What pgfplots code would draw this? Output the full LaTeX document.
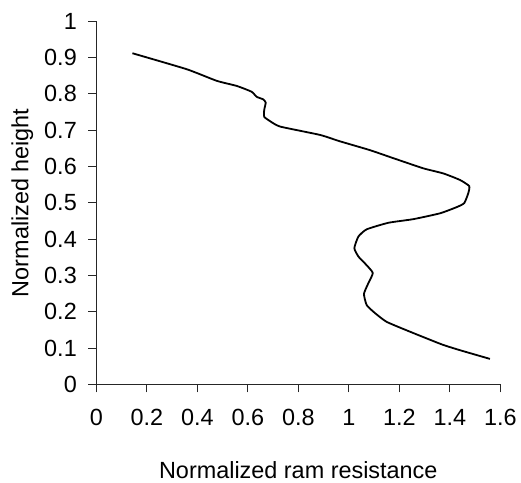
\documentclass[border=0pt]{standalone}
\usepackage{fontspec}
\setmainfont{Liberation Sans}
\usepackage{pgfplots}
\pgfplotsset{compat=1.18}
\begin{document}
\begin{tikzpicture}
\begin{axis}[
  scale only axis,
  width=404bp, height=363bp,
  xmin=0, xmax=1.6, ymin=0, ymax=1,
  axis lines=left,
  axis line style={-, line width=0.9bp, black!85},
  xtick={0,0.2,0.4,0.6,0.8,1,1.2,1.4,1.6},
  xticklabels={0,0.2,0.4,0.6,0.8,1,1.2,1.4,1.6},
  ytick={0,0.1,0.2,0.3,0.4,0.5,0.6,0.7,0.8,0.9,1},
  yticklabels={0,0.1,0.2,0.3,0.4,0.5,0.6,0.7,0.8,0.9,1},
  tick align=outside,
  major tick length=8bp,
  every tick/.style={line width=0.9bp, black!85},
  tick label style={font=\fontsize{23.5}{27}\selectfont},
  xticklabel style={yshift=-23bp, text height=0.72em, text depth=0pt},
  yticklabel style={xshift=-8bp},
  label style={font=\fontsize{23.5}{27}\selectfont},
  xlabel={Normalized ram resistance},
  ylabel={Normalized height},
  x label style={at={(axis description cs:0.5,-0.237)}, anchor=center},
  y label style={at={(axis description cs:-0.183,0.5)}, anchor=center, rotate=0},
  clip=false,
]
\coordinate (O) at (rel axis cs:0,0);
\addplot[black, line width=1.8bp, smooth, tension=0.3] coordinates {
(0.143,0.912)
(0.358,0.868)
(0.477,0.836)
(0.556,0.822)
(0.615,0.806)
(0.635,0.792)
(0.661,0.785)
(0.671,0.776)
(0.665,0.756)
(0.665,0.737)
(0.688,0.725)
(0.728,0.710)
(0.886,0.687)
(0.962,0.670)
(1.084,0.645)
(1.176,0.623)
(1.295,0.595)
(1.374,0.581)
(1.440,0.563)
(1.477,0.546)
(1.473,0.526)
(1.457,0.499)
(1.427,0.488)
(1.361,0.471)
(1.256,0.455)
(1.157,0.445)
(1.071,0.427)
(1.038,0.407)
(1.022,0.375)
(1.038,0.352)
(1.064,0.333)
(1.095,0.307)
(1.077,0.278)
(1.060,0.249)
(1.071,0.218)
(1.104,0.196)
(1.150,0.172)
(1.242,0.145)
(1.368,0.110)
(1.440,0.094)
(1.559,0.070)
};
\end{axis}
\pgfresetboundingbox
\path[use as bounding box] (O) ++(-96.3bp,-98.7bp) rectangle ++(521bp,483bp);
\end{tikzpicture}
\end{document}
